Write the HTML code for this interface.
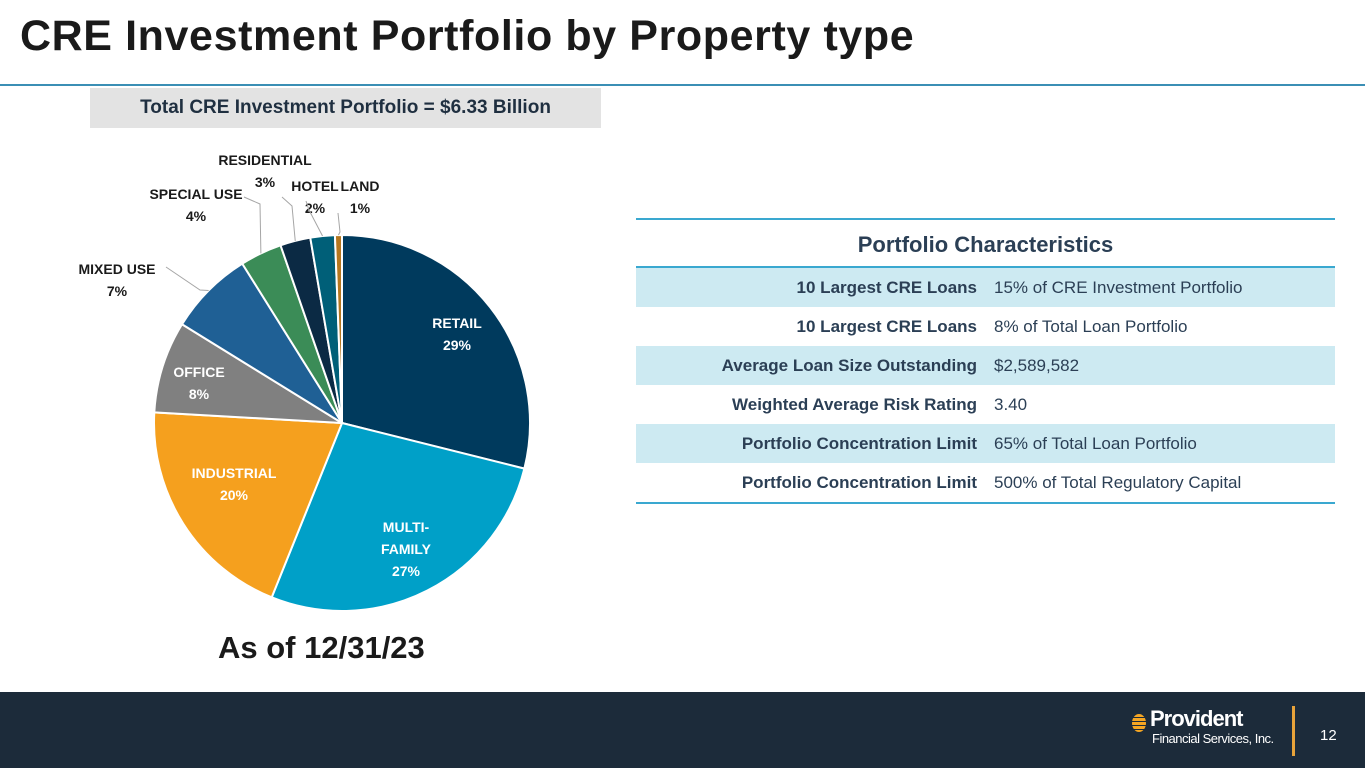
<!DOCTYPE html>
<html><head><meta charset="utf-8"><style>
body{margin:0;width:1365px;height:768px;position:relative;overflow:hidden;background:#fff;font-family:"Liberation Sans",Calibri,sans-serif}
.t{position:absolute;white-space:nowrap}
#title{left:20px;top:12px;font-size:43px;font-weight:bold;color:#1a1a1a;letter-spacing:0.6px}
#rule{position:absolute;left:0;top:84px;width:1365px;height:2px;background:#3b8fb5}
#total{position:absolute;left:90px;top:88px;width:511px;height:40px;background:#e3e3e3;font-size:19px;font-weight:bold;color:#1f2f40;text-align:center;line-height:40px}
#tbl{position:absolute;left:636px;top:218px;width:699px}
.row{height:39px;line-height:39px;font-size:17px;color:#2b3f55;position:relative}
.row.s{background:#cdeaf2}
.row .l{position:absolute;right:358px;font-weight:bold}
.row .v{position:absolute;left:358px}
#foot{position:absolute;left:0;top:692px;width:1365px;height:76px;background:#1c2b3a}
</style></head><body>
<div id="title" class="t">CRE Investment Portfolio by Property type</div>
<div id="rule"></div>
<div id="total">Total CRE Investment Portfolio = $6.33 Billion</div>
<svg id="pie" width="1365" height="692" style="position:absolute;left:0;top:0"></svg>
<div class="t" style="left:218px;top:630px;font-size:31px;font-weight:bold;color:#1a1a1a">As of 12/31/23</div>
<div id="tbl">
<div style="height:2px;background:#3aa8d0"></div>
<div style="height:46px;line-height:50px;text-align:center;font-size:22px;font-weight:bold;color:#2b3f55">Portfolio Characteristics</div>
<div style="height:2px;background:#3aa8d0"></div>
<div class="row s"><span class="l">10 Largest CRE Loans</span><span class="v">15% of CRE Investment Portfolio</span></div>
<div class="row"><span class="l">10 Largest CRE Loans</span><span class="v">8% of Total Loan Portfolio</span></div>
<div class="row s"><span class="l">Average Loan Size Outstanding</span><span class="v">$2,589,582</span></div>
<div class="row"><span class="l">Weighted Average Risk Rating</span><span class="v">3.40</span></div>
<div class="row s"><span class="l">Portfolio Concentration Limit</span><span class="v">65% of Total Loan Portfolio</span></div>
<div class="row"><span class="l">Portfolio Concentration Limit</span><span class="v">500% of Total Regulatory Capital</span></div>
<div style="height:2px;background:#3aa8d0"></div>
</div>
<div id="foot">
<div class="t" style="left:1132px;top:22px;width:14px;height:18px;border-radius:50%;background:repeating-linear-gradient(#f5a623 0 3px,#1c2b3a 3px 4px)"></div>
<div class="t" style="left:1150px;top:14px;font-size:22px;font-weight:bold;color:#fff;letter-spacing:-1px">Provident</div>
<div class="t" style="left:1152px;top:39px;font-size:13px;color:#fff;letter-spacing:-0.5px">Financial Services, Inc.</div>
<div class="t" style="left:1292px;top:14px;width:3px;height:50px;background:#e8a33a"></div>
<div class="t" style="left:1320px;top:35px;font-size:15px;color:#fff">12</div>
</div>
<script>
const categories=["RETAIL","MULTI-FAMILY","INDUSTRIAL","OFFICE","MIXED USE","SPECIAL USE","RESIDENTIAL","HOTEL","LAND"];
const values=[28.9,27.2,19.8,7.9,7.3,3.6,2.6,2.1,0.6];
const pctLabels=["29%","27%","20%","8%","7%","4%","3%","2%","1%"];
const colors=["#003a5d","#00a0c8","#f5a01e","#808080","#1f6095","#3b8c57","#0b2a44","#005f78","#b5771e"];
const svg=document.getElementById('pie');
const NS="http://www.w3.org/2000/svg";
const cx=342,cy=423,r=188;
const total=values.reduce((a,b)=>a+b,0);
function pt(a,rr){return [cx+rr*Math.sin(a),cy-rr*Math.cos(a)];}
let a0=0;
const mids=[];
values.forEach((v,i)=>{
  const a1=a0+v/total*2*Math.PI;
  const p0=pt(a0,r),p1=pt(a1,r);
  const p=document.createElementNS(NS,'path');
  p.setAttribute('d',`M${cx},${cy}L${p0[0]},${p0[1]}A${r},${r} 0 ${a1-a0>Math.PI?1:0} 1 ${p1[0]},${p1[1]}Z`);
  p.setAttribute('fill',colors[i]);p.setAttribute('stroke','#fff');p.setAttribute('stroke-width','2');
  
  
  svg.appendChild(p);
  mids.push((a0+a1)/2);
  a0=a1;
});
const labelPos=[[457,328,1],[406,532,1],[234,478,1],[199,377,1],[117,274,0],[196,199,0],[265,165,0],[315,191,0],[360,191,0]];
const lines={4:[[166,267],[200,290]],5:[[244,197],[260,204]],6:[[282,197],[292,206]],7:[[306,201],[309,210]],8:[[338,213],[340,232]]};
categories.forEach((c,i)=>{
  const [x,y,inside]=labelPos[i];
  const name=c==="MULTI-FAMILY"?["MULTI-","FAMILY"]:[c];
  const lines2=name.concat([pctLabels[i]]);
  const t=document.createElementNS(NS,'text');
  t.setAttribute('x',x);t.setAttribute('y',y);t.setAttribute('text-anchor','middle');
  t.setAttribute('font-size','14');t.setAttribute('font-weight','bold');
  t.setAttribute('font-family','Liberation Sans, sans-serif');
  t.setAttribute('fill',inside?'#fff':'#1a1a1a');
  
  
  lines2.forEach((s,k)=>{const ts=document.createElementNS(NS,'tspan');ts.setAttribute('x',x);ts.setAttribute('dy',k?22:0);ts.textContent=s;t.appendChild(ts);});
  svg.appendChild(t);
  if(lines[i]){
    const [q0,q1]=lines[i];
    const m=pt(mids[i],r);
    const l=document.createElementNS(NS,'polyline');
    l.setAttribute('points',`${q0[0]},${q0[1]} ${q1[0]},${q1[1]} ${m[0]},${m[1]}`);
    l.setAttribute('fill','none');l.setAttribute('stroke','#a6a6a6');l.setAttribute('stroke-width','1');
    
    
    svg.appendChild(l);
  }
});
</script>
</body></html>
